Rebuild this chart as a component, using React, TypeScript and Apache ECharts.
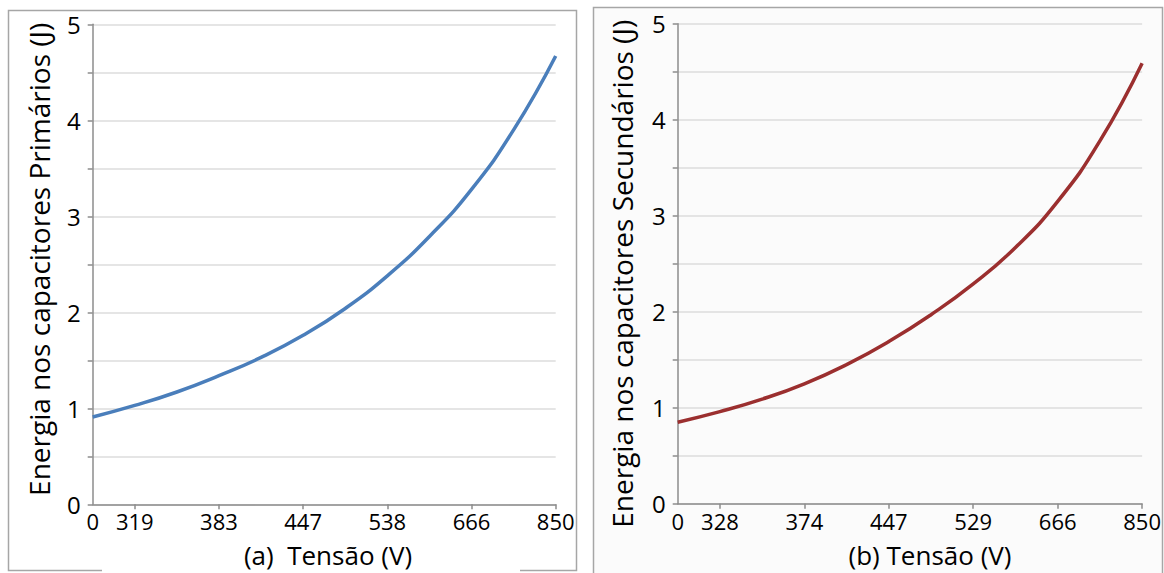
import React, { useEffect, useRef } from "react";
import * as echarts from "echarts";

// Positions along the (non-linear) voltage axis: 0 = origin, odd numbers = labelled ticks
const positions = [0, 1, 2, 3, 4, 5, 6, 7, 8, 9, 10, 11];
const energyPrimary = [0.91, 1.03, 1.17, 1.34, 1.53, 1.76, 2.04, 2.38, 2.79, 3.28, 3.9, 4.67];
const energySecondary = [0.85, 0.96, 1.09, 1.25, 1.45, 1.69, 1.97, 2.29, 2.67, 3.15, 3.78, 4.59];

const labelPositions = [0, 1, 3, 5, 7, 9, 11];
const tickPositions = [1, 3, 5, 7, 9, 11];
const tickLabelsA = ["0", "319", "383", "447", "538", "666", "850"];
const tickLabelsB = ["0", "328", "374", "447", "529", "666", "850"];

const yNameA = "Energia nos capacitores Primários (J)";
const yNameB = "Energia nos capacitores Secundários (J)";
const titleA = "(a)  Tensão (V)";
const titleB = "(b) Tensão (V)";

const FONT = "'Open Sans', 'Noto Sans', sans-serif";

function xAxisFor(gridIndex: number, labels: string[]) {
  return {
    type: "value",
    gridIndex,
    min: 0,
    max: 11,
    splitLine: { show: false },
    axisLine: { show: true, lineStyle: { color: "#8c8c8c", width: 1.5 } },
    axisTick: {
      show: true,
      customValues: tickPositions,
      length: 5,
      lineStyle: { color: "#8c8c8c", width: 1.5 },
    },
    axisLabel: {
      customValues: labelPositions,
      formatter: (v: number) => {
        const i = labelPositions.indexOf(Math.round(v));
        return i >= 0 ? labels[i] : "";
      },
      color: "#000",
      fontSize: 22,
      lineHeight: 20,
      fontFamily: FONT,
      margin: 7,
      showMaxLabel: true,
      showMinLabel: true,
    },
  };
}

function yAxisFor(gridIndex: number, name: string, gap: number, pad: number[]) {
  return {
    type: "value",
    gridIndex,
    min: 0,
    max: 5,
    interval: 0.5,
    name,
    nameLocation: "middle",
    nameGap: gap,
    nameTextStyle: { color: "#000", fontSize: 28, fontFamily: FONT, padding: pad },
    axisLine: { show: true, lineStyle: { color: "#8c8c8c", width: 1.5 } },
    axisTick: { show: true, length: 5, lineStyle: { color: "#8c8c8c", width: 1.5 } },
    splitLine: { show: true, lineStyle: { color: "#dcdcdc", width: 1.5 } },
    axisLabel: {
      formatter: (v: number) => (Math.abs(v - Math.round(v)) < 1e-6 ? String(Math.round(v)) : ""),
      color: "#000",
      fontSize: 24,
      fontFamily: FONT,
      margin: 12,
    },
  };
}

export default function App() {
  const ref = useRef<HTMLDivElement>(null);
  useEffect(() => {
    if (!ref.current) return;
    const chart = echarts.init(ref.current, null, { renderer: "svg" });
    chart.setOption({
      animation: false,
      backgroundColor: "#fff",
      grid: [
        { left: 92.7, top: 24.3, width: 463, height: 480 },
        { left: 677.7, top: 23.8, width: 465.6, height: 480 },
      ],
      xAxis: [xAxisFor(0, tickLabelsA), xAxisFor(1, tickLabelsB)],
      yAxis: [
        yAxisFor(0, yNameA, 40, [0, 0, 0, 10]),
        yAxisFor(1, yNameB, 42, [0, 20, 0, 0]),
      ],
      series: [
        {
          type: "line",
          xAxisIndex: 0,
          yAxisIndex: 0,
          data: positions.map((p, i) => [p, energyPrimary[i]]),
          smooth: true,
          showSymbol: false,
          lineStyle: { color: "#4a7ebb", width: 3.5 },
          z: 5,
        },
        {
          type: "line",
          xAxisIndex: 1,
          yAxisIndex: 1,
          data: positions.map((p, i) => [p, energySecondary[i]]),
          smooth: true,
          showSymbol: false,
          lineStyle: { color: "#9b2f2f", width: 3.5 },
          z: 5,
        },
      ],
      graphic: [
        {
          type: "rect",
          z: -10,
          shape: { x: 8.5, y: 10.5, width: 568, height: 560 },
          style: { fill: "#fff", stroke: "#a6a6a6", lineWidth: 1.5 },
        },
        {
          type: "rect",
          z: -10,
          shape: { x: 593.5, y: 7.5, width: 569, height: 600 },
          style: { fill: "#fbfbfb", stroke: "#a6a6a6", lineWidth: 1.5 },
        },
        {
          type: "rect",
          z: 50,
          shape: { x: 102, y: 548, width: 418, height: 30 },
          style: { fill: "#fff" },
        },
        {
          type: "text",
          z: 60,
          x: 328,
          y: 554.8,
          style: {
            text: titleA,
            fill: "#000",
            font: `26px ${FONT}`,
            align: "center",
            verticalAlign: "middle",
          },
        },
        {
          type: "text",
          z: 60,
          x: 930,
          y: 554.8,
          style: {
            text: titleB,
            fill: "#000",
            font: `26px ${FONT}`,
            align: "center",
            verticalAlign: "middle",
          },
        },
      ],
    });
    return () => chart.dispose();
  }, []);
  return (
    <div
      ref={ref}
      style={{ position: "fixed", left: 0, top: 0, width: 1164, height: 573 }}
    />
  );
}
